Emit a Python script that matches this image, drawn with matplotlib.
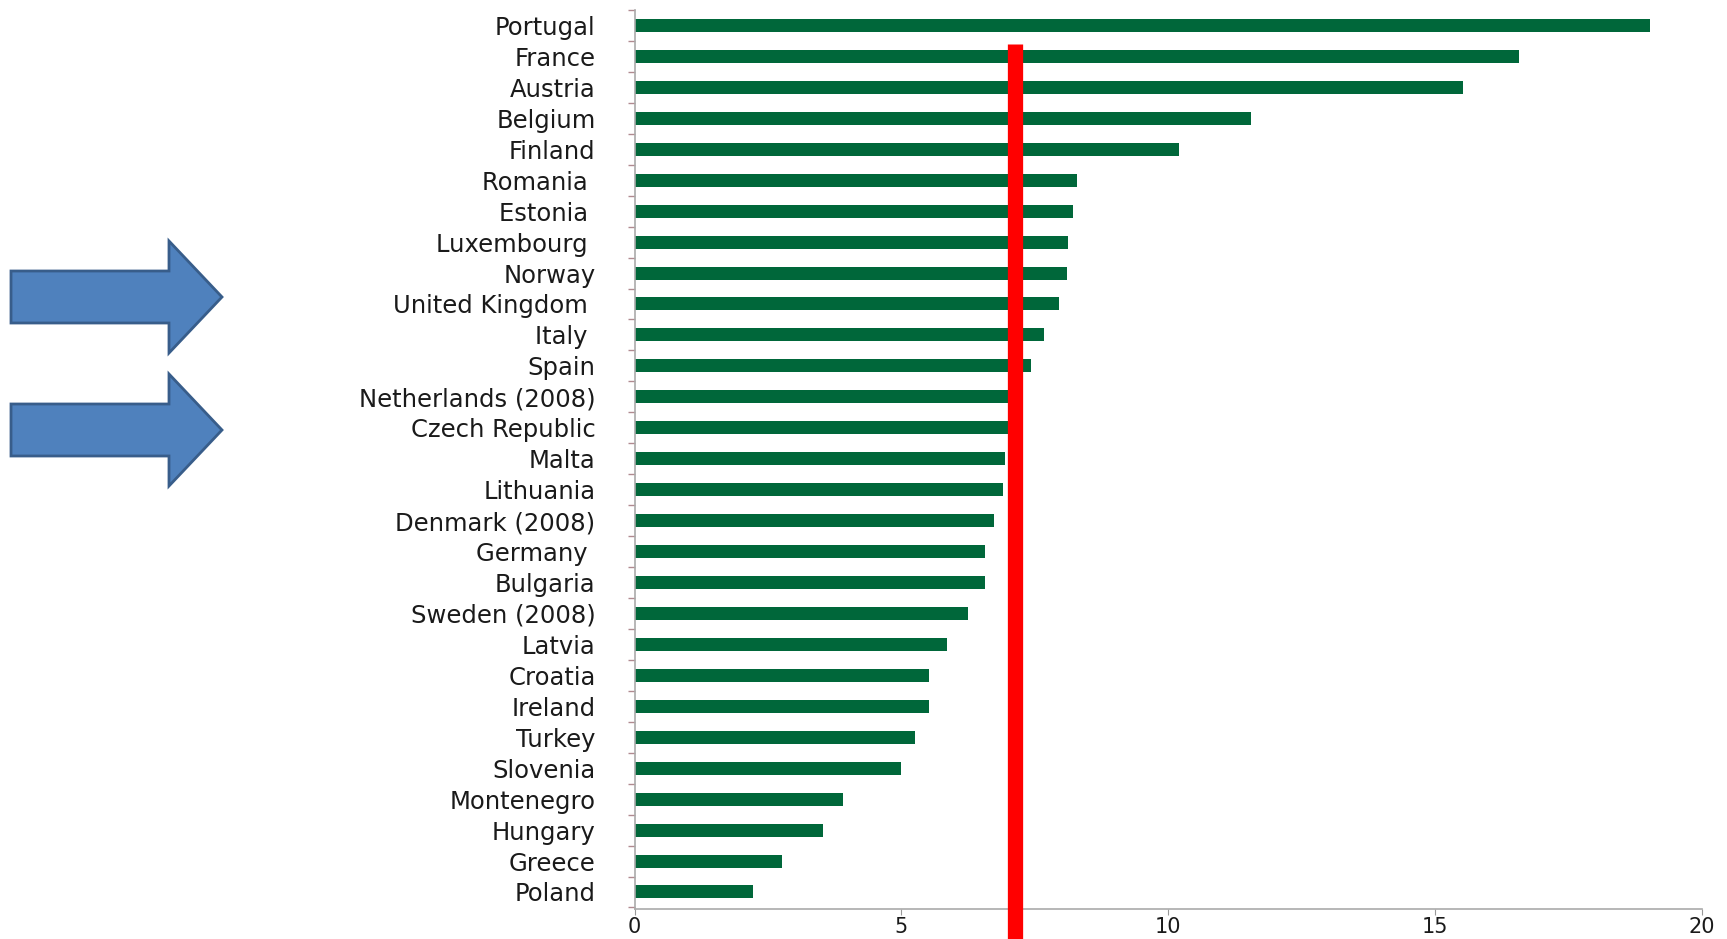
import matplotlib
matplotlib.use("Agg")
import matplotlib.pyplot as plt
from matplotlib.patches import Polygon

countries = ["Portugal", "France", "Austria", "Belgium", "Finland", "Romania ",
             "Estonia ", "Luxembourg ", "Norway", "United Kingdom ", "Italy ", "Spain",
             "Netherlands (2008)", "Czech Republic", "Malta", "Lithuania", "Denmark (2008)",
             "Germany ", "Bulgaria", "Sweden (2008)", "Latvia", "Croatia", "Ireland",
             "Turkey", "Slovenia", "Montenegro", "Hungary", "Greece", "Poland"]
values = [19.03, 16.58, 15.53, 11.55, 10.2, 8.29,
          8.21, 8.13, 8.1, 7.95, 7.67, 7.42,
          7.05, 7.02, 6.94, 6.90, 6.73,
          6.57, 6.56, 6.25, 5.85, 5.51, 5.51,
          5.25, 4.99, 3.91, 3.53, 2.77, 2.22]
reference_value = 7.12
x_ticks = [0, 5, 10, 15, 20]

W, H = 1727, 939
fig = plt.figure(figsize=(W / 100, H / 100), dpi=100)
fig.patch.set_facecolor("white")

left, right, top, bottom = 634.5, 1702, 10, 909
ax = fig.add_axes([left / W, 1 - bottom / H, (right - left) / W, (bottom - top) / H])

pos = list(range(len(countries)))
ax.barh(pos, values, height=0.42, color="#00673A", edgecolor="none", zorder=2)

ax.set_xlim(0, 20)
ax.set_ylim(28.55, -0.5)
ax.set_xticks(x_ticks)
ax.set_xticklabels([str(t) for t in x_ticks])
ax.set_yticks(pos)
ax.set_yticklabels(countries)
ax.set_yticks([p - 0.5 for p in pos] + [len(pos) - 0.5], minor=True)

ax.tick_params(axis="y", which="major", length=0, pad=28, labelsize=17.5, labelcolor="#1a1a1a")
ax.tick_params(axis="y", which="minor", length=5, color="#b08a90", width=1)
ax.tick_params(axis="x", which="major", length=4, color="#999999", pad=2,
               labelsize=15, labelcolor="#1a1a1a")

for s in ["top", "right"]:
    ax.spines[s].set_visible(False)
ax.spines["left"].set_color("#aaaaaa")
ax.spines["bottom"].set_color("#aaaaaa")
ax.spines["left"].set_linewidth(1.2)
ax.spines["bottom"].set_linewidth(1.2)

# red reference line
ax_h = bottom - top
ax.axvline(reference_value, ymin=(bottom - 939) / ax_h, ymax=(bottom - 44) / ax_h,
           color="#FF0000", linewidth=11, clip_on=False, zorder=3,
           solid_capstyle="butt")

# blue block arrows (figure pixel coords, y from top)
def arrow(cy):
    pts = [(11, cy - 26), (169, cy - 26), (169, cy - 56), (222, cy),
           (169, cy + 56), (169, cy + 26), (11, cy + 26)]
    poly = Polygon([(x / W, 1 - y / H) for x, y in pts], closed=True,
                   transform=fig.transFigure, facecolor="#4F81BD",
                   edgecolor="#385D8A", linewidth=2)
    fig.patches.append(poly)

arrow(297)
arrow(430)

fig.savefig("out.png", dpi=100, facecolor="white")
